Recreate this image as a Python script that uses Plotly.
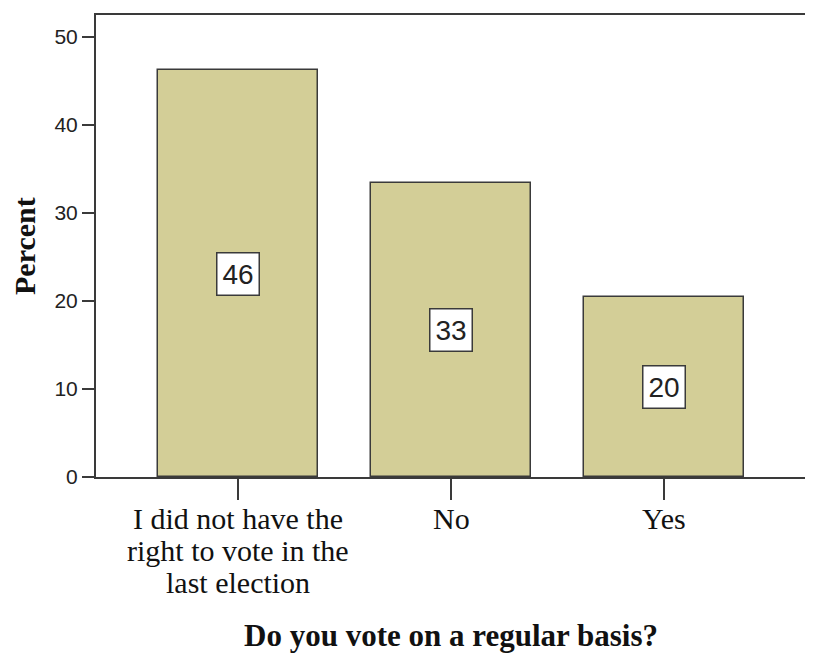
import plotly.graph_objects as go

categories = ["I did not have the right to vote in the last election", "No", "Yes"]
tick_lines = [["I did not have the", "right to vote in the", "last election"], ["No"], ["Yes"]]
percent = [46.2, 33.4, 20.4]
labels = ["46", "33", "20"]
y_ticks = [0, 10, 20, 30, 40, 50]

xs = [0, 1, 2]
BAR = "#D3CE97"
LINE = "#3a3a3a"

fig = go.Figure()
fig.add_trace(go.Bar(
    x=xs, y=percent, width=0.75,
    marker=dict(color=BAR, line=dict(color=LINE, width=1.5)),
    hoverinfo="skip",
))

annotations = []
for xi, v, lab in zip(xs, percent, labels):
    annotations.append(dict(
        x=xi, y=v / 2, xref="x", yref="y", text=lab, showarrow=False,
        font=dict(family="Liberation Sans", size=28, color="#222"),
        bgcolor="white", bordercolor=LINE, borderwidth=1.5, borderpad=5,
    ))
for xi, lines in zip(xs, tick_lines):
    for k, line in enumerate(lines):
        annotations.append(dict(
            x=xi, y=0, xref="x", yref="paper", text=line, showarrow=False,
            yanchor="top", xanchor="center", yshift=-23 - 32 * k,
            font=dict(family="Liberation Serif", size=30, color="#111"),
        ))
annotations.append(dict(
    x=0.5, y=0, xref="paper", yref="paper", text="<b>Do you vote on a regular basis?</b>",
    showarrow=False, yanchor="middle", yshift=-158,
    font=dict(family="Liberation Serif", size=31, color="#111"),
))
annotations.append(dict(
    x=0, y=0.5, xref="paper", yref="paper", text="<b>Percent</b>",
    showarrow=False, xanchor="center", yanchor="middle", xshift=-72, textangle=-90,
    font=dict(family="Liberation Serif", size=30, color="#111"),
))

fig.update_layout(
    width=805, height=648,
    margin=dict(l=88, r=6, t=5, b=179),
    paper_bgcolor="white", plot_bgcolor="white",
    showlegend=False,
    annotations=annotations,
    bargap=0,
)
fig.update_xaxes(
    range=[-0.665, 2.665], tickvals=xs, showticklabels=False,
    ticks="outside", ticklen=21, tickwidth=2, tickcolor=LINE,
    showline=True, linecolor=LINE, linewidth=2, mirror=True,
    showgrid=False, zeroline=False,
)
fig.update_yaxes(
    range=[0, 52.5], tickvals=y_ticks, ticktext=[str(t) for t in y_ticks],
    ticks="outside", ticklen=12, tickwidth=2, tickcolor=LINE,
    tickfont=dict(family="Liberation Sans", size=21, color="#222"),
    showline=True, linecolor=LINE, linewidth=2, mirror=True,
    showgrid=False, zeroline=False,
)

fig.write_html("out.html")
